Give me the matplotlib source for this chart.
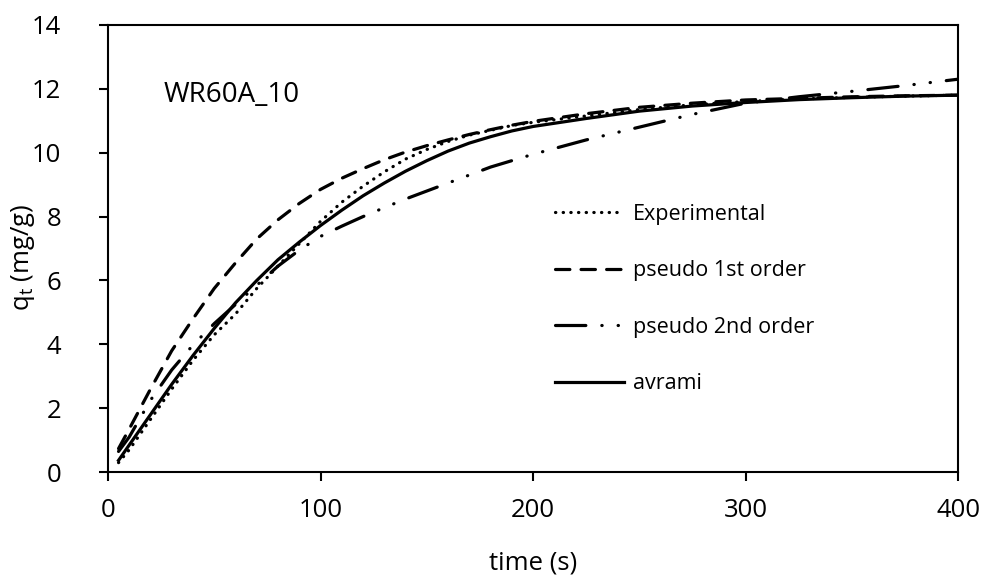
import matplotlib
matplotlib.use("Agg")
import matplotlib.pyplot as plt

plt.rcParams['font.family'] = ['Open Sans', 'DejaVu Sans']

# time (s) and q_t (mg/g)
time = [5, 10, 20, 30, 40, 50, 60, 70, 80, 90, 100, 110, 120, 130, 140, 150,
        160, 170, 180, 190, 200, 225, 250, 275, 300, 325, 350, 375, 400]
experimental = [0.3, 0.7, 1.65, 2.6, 3.5, 4.3, 4.95, 5.75, 6.45, 7.15, 7.85, 8.45,
                8.95, 9.4, 9.8, 10.1, 10.35, 10.55, 10.7, 10.85, 10.95,
                11.15, 11.35, 11.5, 11.6, 11.68, 11.73, 11.77, 11.8]
pseudo_1st = [0.74, 1.35, 2.6, 3.8, 4.8, 5.75, 6.55, 7.3, 7.9, 8.41, 8.85, 9.2,
              9.5, 9.78, 10.02, 10.22, 10.4, 10.57, 10.72, 10.86, 10.98,
              11.22, 11.42, 11.55, 11.65, 11.7, 11.75, 11.78, 11.8]
pseudo_2nd = [0.65, 1.1, 2.25, 3.2, 3.98, 4.65, 5.25, 5.85, 6.45, 6.95, 7.38, 7.7,
              8.0, 8.28, 8.55, 8.8, 9.05, 9.3, 9.55, 9.75, 9.95,
              10.4, 10.8, 11.2, 11.55, 11.75, 11.92, 12.1, 12.3]
avrami = [0.37, 0.85, 1.8, 2.75, 3.65, 4.5, 5.3, 6.0, 6.65, 7.2, 7.72, 8.2,
          8.65, 9.05, 9.42, 9.75, 10.05, 10.3, 10.5, 10.68, 10.82,
          11.07, 11.3, 11.46, 11.57, 11.66, 11.72, 11.77, 11.8]

fig = plt.figure(figsize=(9.9, 5.78), dpi=100)
ax = fig.add_axes([0.109, 0.183, 0.859, 0.774])

lw = 2.3
ax.plot(time, experimental, color='black', lw=lw, linestyle=(0, (0.1, 2.3)),
        dash_capstyle='round', label='Experimental')
ax.plot(time, pseudo_1st, color='black', lw=lw, linestyle=(0, (4.5, 3.5)),
        dash_capstyle='round', label='pseudo 1st order')
ax.plot(time, pseudo_2nd, color='black', lw=lw,
        linestyle=(0, (9.5, 5.0, 0.1, 5.0, 0.1, 5.0)),
        dash_capstyle='round', label='pseudo 2nd order')
ax.plot(time, avrami, color='black', lw=lw, linestyle='-', label='avrami')

ax.set_xlim(0, 400)
ax.set_ylim(0, 14)
ax.set_xticks([0, 100, 200, 300, 400])
ax.set_yticks(range(0, 15, 2))

for s in ax.spines.values():
    s.set_linewidth(1.5)
ax.tick_params(axis='both', direction='out', length=6.5, width=1.5, labelsize=18.5)
ax.tick_params(axis='y', pad=27)
ax.tick_params(axis='x', pad=12)

ax.set_xlabel('time (s)', fontsize=18.5, labelpad=20)
ax.set_ylabel('q$_\\mathregular{t}$ (mg/g)', fontsize=18.5)
ax.yaxis.set_label_coords(-0.083, 0.48)

ax.text(0.065, 0.843, 'WR60A_10', transform=ax.transAxes, fontsize=20,
        ha='left', va='center')

ax.legend(loc='upper left', bbox_to_anchor=(0.526, 0.60), frameon=False,
          fontsize=15.5, handlelength=3.2, handletextpad=0.4, labelspacing=1.65,
          borderpad=0, borderaxespad=0)

fig.savefig('out.png', dpi=100)
